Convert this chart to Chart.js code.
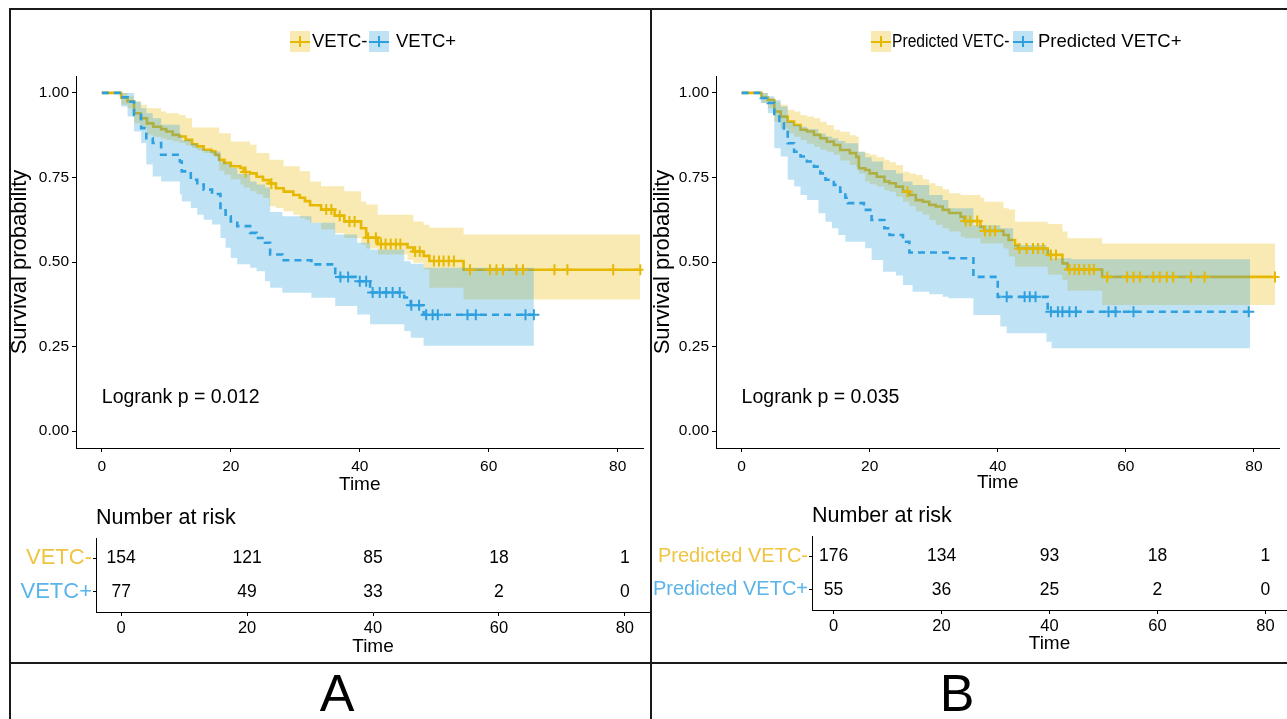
<!DOCTYPE html>
<html><head><meta charset="utf-8">
<script src="https://cdn.jsdelivr.net/npm/chart.js@4.4.1/dist/chart.umd.min.js"></script>
<style>
html,body{margin:0;padding:0;background:#fff;width:1287px;height:719px;overflow:hidden;font-family:"Liberation Sans",Arial,Helvetica,sans-serif;}
canvas{position:absolute;display:block;}
.ln{position:absolute;background:#1a1a1a;z-index:5;}
.ico{position:absolute;width:20px;height:21px;}
.ico .h{position:absolute;left:0;width:20px;top:9.5px;height:2px;}
.ico .v{position:absolute;left:9px;top:5px;width:2px;height:11px;}
.lt{position:absolute;color:#000;white-space:nowrap;line-height:22px;height:22px;transform-origin:0 50%;}
.plabel{position:absolute;font-size:52px;line-height:52px;color:#000;transform:translateX(-50%);}
</style>
</head><body>
<canvas id="kmA" width="641" height="490" style="left:10px;top:10px"></canvas>
<canvas id="kmB" width="636" height="490" style="left:651px;top:10px"></canvas>
<canvas id="riskA" width="641" height="168" style="left:10px;top:495px"></canvas>
<canvas id="riskB" width="636" height="168" style="left:651px;top:495px"></canvas>

<div class="ln" style="left:9px;top:8px;width:1278px;height:2px"></div>
<div class="ln" style="left:9px;top:8px;width:2px;height:711px"></div>
<div class="ln" style="left:650px;top:8px;width:2px;height:711px"></div>
<div class="ln" style="left:9px;top:662px;width:1278px;height:2px"></div>

<div class="ico" style="left:290px;top:31px;background:rgba(231,184,0,0.3)"><div class="h" style="background:#E7B800"></div><div class="v" style="background:#E7B800"></div></div>
<div class="lt" style="left:312px;top:30px;font-size:18.5px">VETC-</div>
<div class="ico" style="left:369px;top:31px;background:rgba(46,159,223,0.3)"><div class="h" style="background:#2E9FDF"></div><div class="v" style="background:#2E9FDF"></div></div>
<div class="lt" style="left:396px;top:30px;font-size:18.5px">VETC+</div>

<div class="ico" style="left:871px;top:31px;background:rgba(231,184,0,0.3)"><div class="h" style="background:#E7B800"></div><div class="v" style="background:#E7B800"></div></div>
<div class="lt" style="left:892px;top:30px;font-size:18px;transform:scaleX(0.87)">Predicted VETC-</div>
<div class="ico" style="left:1013px;top:31px;background:rgba(46,159,223,0.3)"><div class="h" style="background:#2E9FDF"></div><div class="v" style="background:#2E9FDF"></div></div>
<div class="lt" style="left:1038px;top:30px;font-size:18.5px">Predicted VETC+</div>

<div class="plabel" style="left:337px;top:667px">A</div>
<div class="plabel" style="left:957px;top:667px">B</div>

<script>
// ---------- shared tick labels ----------
const timeTicks = [0, 20, 40, 60, 80];
const survTicks = [0, 0.25, 0.5, 0.75, 1];

// ---------- Panel A : VETC- ----------
const aNegT = [0,3,4,5,6,7,8,9.2,10,11,12,13,14,14.8,15.8,17,17.6,18.2,19,20,21.5,22,23,24,25,26,27,28.2,29.7,30.7,31.5,32.3,34,36.1,37.6,40.2,41,42.8,47.4,48.3,49.9,50.8,56.1,83.5];
const aNegS = [1,.986,.975,.94,.925,.91,.90,.893,.886,.876,.871,.861,.848,.842,.832,.827,.817,.802,.793,.783,.778,.766,.762,.752,.742,.732,.718,.708,.698,.690,.680,.668,.655,.637,.62,.60,.572,.553,.543,.531,.518,.503,.477,.477];
const aNegUpper = [1,1,.99,.975,.965,.955,.955,.945,.94,.94,.935,.925,.898,.898,.898,.898,.898,.881,.881,.856,.856,.856,.847,.822,.822,.802,.802,.783,.783,.768,.768,.738,.724,.724,.709,.679,.67,.64,.64,.62,.61,.601,.581,.581];
const aNegLower = [1,.965,.955,.91,.896,.876,.87,.865,.861,.856,.852,.845,.837,.83,.822,.815,.81,.77,.758,.745,.729,.72,.709,.70,.689,.665,.66,.65,.64,.63,.625,.616,.596,.586,.571,.552,.54,.522,.507,.498,.478,.424,.389,.389];
const aNegCensor = [22.3,26.3,34.8,35.6,36.9,38.4,39.2,41.3,42.5,43.3,44.0,44.8,45.6,46.3,48.6,49.3,51.5,52.3,53.0,53.8,54.6,57.1,60.2,61.2,62.2,64.3,65.3,70.2,72.2,79.3,83.5];

// ---------- Panel A : VETC+ ----------
const aPosT = [0,3,4,5,6.1,6.9,7.9,9.2,12.1,12.4,13.8,14.8,15.8,17.1,18.4,19.2,20,21,23,24,25.3,26.1,28,32.5,36.2,39.6,41.6,46.9,47.9,49.9,67];
const aPosS = [1,.987,.974,.935,.896,.866,.852,.817,.797,.768,.743,.729,.714,.701,.66,.635,.62,.606,.586,.571,.557,.522,.505,.493,.456,.443,.41,.395,.372,.344,.344];
const aPosUpper = [1,1,1,.974,.955,.94,.925,.906,.876,.861,.85,.837,.83,.827,.797,.79,.778,.76,.738,.729,.72,.648,.635,.616,.581,.557,.537,.502,.495,.483,.483];
const aPosLower = [1,.96,.93,.886,.852,.788,.753,.738,.70,.679,.66,.64,.625,.611,.571,.542,.512,.493,.483,.473,.443,.424,.409,.394,.37,.345,.316,.296,.276,.252,.252];
const aPosCensor = [37,38.2,40,41,42,43.1,44.1,45.1,46.2,48,49.2,50.3,51.3,52.1,56.7,58,65.7,67];

// ---------- Panel B : Predicted VETC- ----------
const bNegT = [0,3.1,4.1,5.1,6.1,7.2,8.2,9.2,10.2,11.3,12.3,13.3,14.4,15.4,16.9,17.9,18.3,19.3,20,21.1,22.3,23.1,24.1,25.2,26.2,27.2,28.3,29.3,30.3,31.4,32.4,34.2,34.8,37.3,37.9,40.9,41.7,42.7,43.2,47.8,50.1,50.9,56.3,83.3];
const bNegS = [1,.986,.979,.945,.93,.915,.905,.891,.886,.876,.866,.856,.846,.831,.822,.811,.777,.772,.762,.752,.738,.733,.723,.708,.698,.683,.678,.669,.664,.654,.645,.634,.621,.604,.592,.58,.565,.55,.54,.521,.496,.478,.456,.456];
const bNegUpper = [1,1,.985,.974,.965,.95,.945,.935,.93,.925,.915,.905,.891,.885,.875,.871,.826,.822,.817,.81,.802,.795,.787,.767,.762,.757,.745,.733,.725,.715,.703,.698,.698,.69,.678,.659,.655,.619,.619,.612,.59,.57,.555,.555];
const bNegLower = [1,.97,.955,.915,.895,.881,.87,.861,.85,.841,.832,.826,.817,.80,.787,.78,.762,.738,.73,.723,.712,.708,.693,.678,.665,.649,.64,.624,.61,.60,.59,.575,.57,.555,.555,.54,.516,.486,.486,.462,.447,.415,.373,.373];
const bNegCensor = [25.9,35.0,35.7,36.8,38.0,38.8,39.6,43.4,44.5,45.5,46.3,47.1,48.3,49.1,51.2,52.0,52.7,53.5,54.3,55.0,57.1,60.2,61.2,62.2,64.3,65.3,66.4,67.4,70.2,72.3,83.3];

// ---------- Panel B : Predicted VETC+ ----------
const bPosT = [0,3,4.1,5.1,5.9,6.6,7.2,8.2,9.2,10.2,11.3,12.3,13.1,14.4,15.4,16.2,16.6,19.1,20.3,22.3,23.1,25.2,26.2,32.5,36.2,40,47.8,79.2];
const bPosS = [1,.985,.970,.930,.910,.891,.851,.826,.812,.797,.782,.762,.743,.728,.708,.690,.674,.654,.624,.60,.58,.56,.528,.511,.456,.397,.353,.353];
const bPosBandT = [0,3,4.1,5.1,6.1,7.2,8.2,9.2,10.2,12,13.1,14.1,15.1,16.2,18.2,19.3,20.3,22.1,24.1,25.2,26.7,29.3,31.4,32.3,36.2,40.4,41.4,42.4,47.6,48.4,51.5,79.4];
const bPosUpper = [1,1,.99,.979,.96,.915,.905,.90,.893,.88,.871,.866,.858,.851,.826,.81,.797,.772,.762,.738,.728,.698,.683,.659,.609,.60,.60,.55,.536,.511,.508,.508];
const bPosLower = [1,.97,.94,.836,.812,.743,.723,.698,.683,.644,.619,.60,.58,.56,.56,.541,.506,.471,.46,.432,.412,.405,.397,.393,.343,.309,.289,.289,.264,.245,.245,.245];
const bPosCensor = [41.4,44.2,45,45.9,48.3,49.4,50.1,51.2,52.2,57.3,58.4,61.2,79.2];

// ---------- number at risk ----------
const riskANeg = [154, 121, 85, 18, 1];
const riskAPos = [77, 49, 33, 2, 0];
const riskBNeg = [176, 134, 93, 18, 1];
const riskBPos = [55, 36, 25, 2, 0];

const groupsA = ['VETC-', 'VETC+'];
const groupsB = ['Predicted VETC-', 'Predicted VETC+'];
const pvalA = 'Logrank p = 0.012';
const pvalB = 'Logrank p = 0.035';

// ---------- styling ----------
Chart.defaults.font.family = "'Liberation Sans', Arial, Helvetica, sans-serif";
Chart.defaults.color = '#000';
const YEL = '#E7B800', BLU = '#2E9FDF';
const YEL_BAND = 'rgba(231,184,0,0.30)', BLU_BAND = 'rgba(46,159,223,0.30)';
const YEL_TXT = '#EEC440', BLU_TXT = '#5AB4EA';

function pts(t, v) { return t.map((x, i) => ({x: x, y: v[i]})); }
function stepAt(t, v, x) { let y = v[0]; for (let i = 0; i < t.length; i++) { if (t[i] <= x) y = v[i]; else break; } return y; }
function censorPts(ct, t, v) { return ct.map(x => ({x: x, y: stepAt(t, v, x)})); }

function bandDs(data, color, fill) {
  return {data: data, stepped: 'before', borderColor: 'transparent', borderWidth: 0, pointRadius: 0,
          backgroundColor: color, fill: fill};
}

function kmChart(id, p) {
  const d = p.d;
  new Chart(document.getElementById(id), {
    type: 'line',
    data: {datasets: [
      {data: censorPts(d.posC, d.posT, d.posS), showLine: false, pointStyle: 'cross', pointRadius: 5.5, pointBorderWidth: 2, pointBorderColor: BLU, pointBackgroundColor: BLU},
      {data: censorPts(d.negC, d.negT, d.negS), showLine: false, pointStyle: 'cross', pointRadius: 5.5, pointBorderWidth: 2, pointBorderColor: YEL, pointBackgroundColor: YEL},
      {data: pts(d.posT, d.posS), stepped: 'before', borderColor: BLU, borderWidth: 2.6, borderDash: [7, 5], pointRadius: 0, fill: false},
      bandDs(pts(d.posBT, d.posU), BLU_BAND, '+1'),
      bandDs(pts(d.posBT, d.posL), 'transparent', false),
      {data: pts(d.negT, d.negS), stepped: 'before', borderColor: YEL, borderWidth: 2.6, pointRadius: 0, fill: false},
      bandDs(pts(d.negBT, d.negU), YEL_BAND, '+1'),
      bandDs(pts(d.negBT, d.negL), 'transparent', false)
    ]},
    options: {
      responsive: false, animation: false, events: [],
      layout: {padding: {top: p.padTop, left: 0, right: p.padRight, bottom: 0}},
      plugins: {legend: {display: false}, tooltip: {enabled: false}},
      scales: {
        x: {type: 'linear', min: -4, max: 84,
            afterBuildTicks: s => { s.ticks = timeTicks.map(v => ({value: v})); },
            afterFit: s => { s.height = p.xH; },
            grid: {drawOnChartArea: false, drawTicks: true, tickLength: 4, tickColor: '#000', tickWidth: 1},
            border: {display: true, color: '#000', width: 1},
            ticks: {font: {size: 15.5}, color: '#000', padding: 5, maxRotation: 0, autoSkip: false},
            title: {display: true, text: 'Time', font: {size: 19}, color: '#000', padding: {top: 0, bottom: p.xTitlePad}}},
        y: {type: 'linear', min: -0.05, max: 1.05,
            afterBuildTicks: s => { s.ticks = survTicks.map(v => ({value: v})); },
            afterFit: s => { s.width = p.yW; },
            grid: {drawOnChartArea: false, drawTicks: true, tickLength: 4, tickColor: '#000', tickWidth: 1},
            border: {display: true, color: '#000', width: 1},
            ticks: {font: {size: 15.5}, color: '#000', padding: 3, callback: v => Number(v).toFixed(2)},
            title: {display: true, text: 'Survival probability', font: {size: 22}, color: '#000', padding: {top: p.yTitlePad, bottom: 0}}}
      }
    },
    plugins: [{
      id: 'pval',
      afterDraw(chart) {
        const c = chart.ctx, xs = chart.scales.x, ys = chart.scales.y;
        c.save();
        c.font = "19.5px 'Liberation Sans', Arial, sans-serif";
        c.fillStyle = '#000'; c.textAlign = 'left'; c.textBaseline = 'middle';
        c.fillText(p.pval, xs.getPixelForValue(0), ys.getPixelForValue(0.1));
        c.restore();
      }
    }]
  });
}

function riskChart(id, p) {
  new Chart(document.getElementById(id), {
    type: 'line',
    data: {datasets: []},
    options: {
      responsive: false, animation: false, events: [],
      layout: {padding: {top: p.padTop, left: 0, right: p.padRight, bottom: 0}},
      plugins: {legend: {display: false}, tooltip: {enabled: false}},
      scales: {
        x: {type: 'linear', min: -4, max: 84,
            afterBuildTicks: s => { s.ticks = timeTicks.map(v => ({value: v})); },
            afterFit: s => { s.height = p.xH; },
            grid: {drawOnChartArea: false, drawTicks: true, tickLength: 4, tickColor: '#000'},
            border: {display: true, color: '#000', width: 1},
            ticks: {font: {size: 16.5}, color: '#000', padding: 3, maxRotation: 0, autoSkip: false},
            title: {display: true, text: 'Time', font: {size: 19}, color: '#000', padding: {top: 0, bottom: p.xTitlePad}}},
        y: {type: 'linear', min: 0.4, max: 2.6,
            afterBuildTicks: s => { s.ticks = [{value: 1}, {value: 2}]; },
            afterFit: s => { s.width = p.yW; },
            grid: {drawOnChartArea: false, drawTicks: true, tickLength: 3, tickColor: '#000'},
            border: {display: true, color: '#000', width: 1},
            ticks: {font: {size: p.lblSize}, padding: 1,
                    callback: v => (v === 2 ? p.groups[0] : p.groups[1]),
                    color: c => (c.tick && c.tick.value === 2 ? YEL_TXT : BLU_TXT)}}
      }
    },
    plugins: [{
      id: 'riskText',
      afterDraw(chart) {
        const c = chart.ctx, xs = chart.scales.x, ys = chart.scales.y;
        c.save();
        c.fillStyle = '#000';
        c.font = "21.5px 'Liberation Sans', Arial, sans-serif";
        c.textAlign = 'left'; c.textBaseline = 'middle';
        c.fillText('Number at risk', chart.chartArea.left, p.titleY);
        c.font = "17.5px 'Liberation Sans', Arial, sans-serif";
        c.textAlign = 'center';
        timeTicks.forEach((t, i) => {
          c.fillText(String(p.neg[i]), xs.getPixelForValue(t), ys.getPixelForValue(2));
          c.fillText(String(p.pos[i]), xs.getPixelForValue(t), ys.getPixelForValue(1));
        });
        c.restore();
      }
    }]
  });
}

kmChart('kmA', {padTop: 66, padRight: 3, yW: 66, xH: 52, xTitlePad: 4, yTitlePad: -3, pval: pvalA,
  d: {negT: aNegT, negS: aNegS, negBT: aNegT, negU: aNegUpper, negL: aNegLower, negC: aNegCensor,
      posT: aPosT, posS: aPosS, posBT: aPosT, posU: aPosUpper, posL: aPosLower, posC: aPosCensor}});
kmChart('kmB', {padTop: 66, padRight: 1, yW: 65, xH: 52, xTitlePad: 6, yTitlePad: -1, pval: pvalB,
  d: {negT: bNegT, negS: bNegS, negBT: bNegT, negU: bNegUpper, negL: bNegLower, negC: bNegCensor,
      posT: bPosT, posS: bPosS, posBT: bPosBandT, posU: bPosUpper, posL: bPosLower, posC: bPosCensor}});
riskChart('riskA', {padTop: 43, padRight: 1, yW: 86, xH: 51, xTitlePad: 5, lblSize: 22, titleY: 23,
  groups: groupsA, neg: riskANeg, pos: riskAPos});
riskChart('riskB', {padTop: 41, padRight: 0, yW: 161, xH: 53, xTitlePad: 8, lblSize: 20, titleY: 21,
  groups: groupsB, neg: riskBNeg, pos: riskBPos});
</script>
</body></html>
